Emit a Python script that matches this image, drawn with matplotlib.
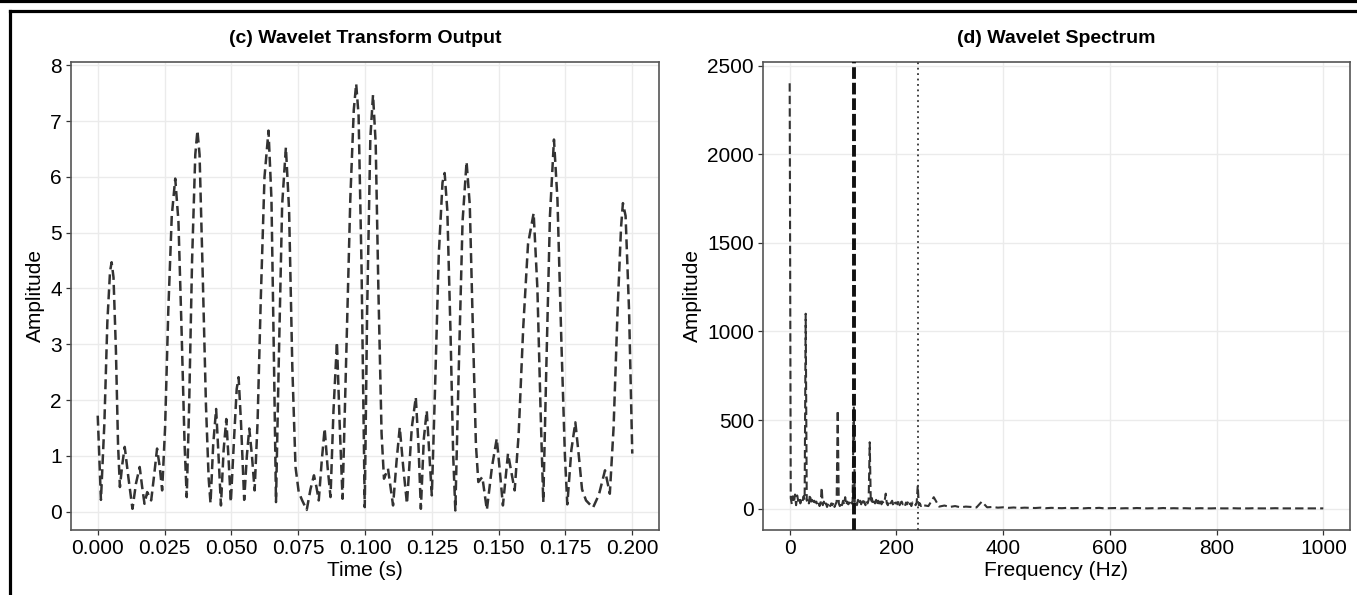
import numpy as np
import matplotlib
matplotlib.use("Agg")
import matplotlib.pyplot as plt
from matplotlib.lines import Line2D

plt.rcParams['font.family'] = ['Liberation Sans', 'DejaVu Sans']

# ---------------------------------------------------------------------------
# data
# ---------------------------------------------------------------------------
# (c) wavelet transform output: time (s) and amplitude
time_s = [0.0000, 0.0012, 0.0025, 0.0036, 0.0046, 0.0052, 0.0059, 0.0068, 0.0076, 0.0083,
          0.0092, 0.0101, 0.0115, 0.0130, 0.0143, 0.0157, 0.0166, 0.0175, 0.0185, 0.0200,
          0.0211, 0.0222, 0.0232, 0.0241, 0.0252, 0.0264, 0.0277, 0.0290, 0.0302, 0.0314,
          0.0325, 0.0333, 0.0342, 0.0353, 0.0365, 0.0373, 0.0381, 0.0392, 0.0405, 0.0415,
          0.0422, 0.0432, 0.0443, 0.0452, 0.0461, 0.0471, 0.0481, 0.0490, 0.0498, 0.0510,
          0.0520, 0.0527, 0.0536, 0.0548, 0.0558, 0.0567, 0.0577, 0.0587, 0.0598, 0.0610,
          0.0624, 0.0639, 0.0650, 0.0660, 0.0667, 0.0677, 0.0690, 0.0704, 0.0716, 0.0728,
          0.0740, 0.0752, 0.0765, 0.0782, 0.0796, 0.0809, 0.0818, 0.0827, 0.0838, 0.0849,
          0.0860, 0.0871, 0.0882, 0.0895, 0.0905, 0.0916, 0.0930, 0.0945, 0.0958, 0.0967,
          0.0976, 0.0987, 0.0999, 0.1008, 0.1020, 0.1030, 0.1040, 0.1050, 0.1062, 0.1071,
          0.1086, 0.1105, 0.1118, 0.1130, 0.1143, 0.1157, 0.1175, 0.1190, 0.1200, 0.1209,
          0.1220, 0.1231, 0.1241, 0.1250, 0.1262, 0.1276, 0.1290, 0.1298, 0.1308, 0.1320,
          0.1330, 0.1338, 0.1350, 0.1365, 0.1380, 0.1392, 0.1404, 0.1415, 0.1424, 0.1439,
          0.1456, 0.1475, 0.1493, 0.1505, 0.1516, 0.1535, 0.1548, 0.1560, 0.1575, 0.1592,
          0.1610, 0.1631, 0.1645, 0.1657, 0.1667, 0.1678, 0.1692, 0.1707, 0.1720, 0.1735,
          0.1748, 0.1757, 0.1772, 0.1787, 0.1800, 0.1812, 0.1827, 0.1853, 0.1875, 0.1898,
          0.1916, 0.1930, 0.1945, 0.1958, 0.1965, 0.1975, 0.1988, 0.2000]
amplitude = [1.72, 0.21, 1.60, 3.40, 4.30, 4.47, 4.20, 2.90, 1.20, 0.44,
             0.85, 1.16, 0.60, 0.05, 0.50, 0.80, 0.45, 0.14, 0.35, 0.20,
             0.65, 1.13, 0.80, 0.38, 1.50, 3.60, 5.30, 5.97, 5.20, 3.20,
             1.20, 0.26, 1.90, 4.50, 6.40, 6.83, 6.40, 4.40, 1.90, 0.60,
             0.15, 1.20, 1.84, 1.00, 0.11, 1.10, 1.66, 0.90, 0.17, 1.30,
             2.20, 2.41, 1.60, 0.21, 1.00, 1.49, 1.00, 0.38, 1.60, 3.80,
             6.00, 6.83, 5.60, 2.50, 0.17, 2.60, 5.50, 6.53, 5.40, 2.60,
             0.80, 0.35, 0.20, 0.03, 0.40, 0.65, 0.45, 0.20, 0.90, 1.49,
             0.80, 0.26, 1.80, 3.04, 1.60, 0.23, 2.80, 5.60, 7.20, 7.67,
             7.10, 4.40, 0.08, 3.60, 6.70, 7.47, 6.60, 4.00, 1.40, 0.59,
             0.77, 0.11, 0.90, 1.51, 0.80, 0.14, 1.50, 2.05, 1.20, 0.05,
             1.30, 1.81, 1.00, 0.29, 2.20, 4.60, 5.90, 6.07, 5.40, 3.20,
             1.00, 0.02, 2.40, 5.20, 6.27, 5.50, 3.20, 1.20, 0.53, 0.62,
             0.03, 0.80, 1.31, 0.70, 0.11, 1.04, 0.70, 0.38, 1.40, 3.30,
             4.80, 5.35, 4.00, 1.80, 0.17, 2.50, 5.30, 6.67, 5.60, 3.00,
             1.00, 0.13, 1.10, 1.60, 1.00, 0.40, 0.20, 0.07, 0.30, 0.74,
             0.32, 1.50, 3.60, 5.10, 5.53, 5.30, 3.60, 1.04]

# (d) wavelet spectrum: 0-248 Hz in 2 Hz bins, then 250-1000 Hz in 10 Hz bins
spec_low = [2400, 60, 25, 70, 35, 80, 20, 75, 45, 65,
            30, 55, 40, 70, 50, 1100, 45, 55, 30, 80,
            40, 50, 25, 45, 35, 40, 20, 35, 15, 30,
            120, 20, 40, 15, 30, 10, 25, 35, 15, 30,
            20, 35, 10, 25, 40, 555, 30, 15, 35, 20,
            45, 25, 65, 20, 40, 25, 35, 50, 30, 40,
            650, 35, 45, 20, 50, 30, 45, 25, 55, 35,
            40, 20, 45, 30, 50, 375, 35, 60, 25, 40,
            30, 50, 20, 45, 30, 55, 25, 40, 30, 45,
            85, 30, 20, 40, 25, 35, 45, 20, 40, 30,
            35, 25, 45, 20, 35, 40, 25, 30, 15, 35,
            25, 40, 20, 30, 15, 35, 25, 30, 20, 35,
            130, 20, 30, 15, 25]
spec_high = [20, 15, 65, 12, 18, 10, 15, 8, 12, 10,
             7, 40, 8, 10, 6, 8, 5, 7, 4, 6,
             5, 4, 6, 3, 5, 4, 3, 5, 3, 4,
             2, 4, 3, 5, 2, 3, 4, 2, 3, 2,
             4, 3, 2, 3, 2, 4, 2, 3, 2, 3,
             2, 2, 3, 2, 2, 3, 2, 2, 3, 2,
             2, 2, 3, 2, 2, 2, 3, 2, 2, 2,
             2, 2, 2, 2, 2, 2]
freq_low = np.arange(len(spec_low)) * 2.0
freq_high = 250.0 + np.arange(len(spec_high)) * 10.0

marker_main = 120     # Hz, thick dashed line
marker_harm = 240     # Hz, dotted line

time_ticks = [0.000, 0.025, 0.050, 0.075, 0.100, 0.125, 0.150, 0.175, 0.200]
freq_ticks = [0, 200, 400, 600, 800, 1000]

# ---------------------------------------------------------------------------
# figure
# ---------------------------------------------------------------------------
W, H = 1357, 595
fig = plt.figure(figsize=(W / 100, H / 100), dpi=100)
fig.patch.set_facecolor('white')

ax1 = fig.add_axes([71 / W, 1 - 530 / H, 588 / W, 468 / H])
ax2 = fig.add_axes([763 / W, 1 - 530 / H, 587 / W, 468 / H])

line_col = '#333333'
fs_tick = 15
fs_lab = 15
fs_title = 14

# (c)
ax1.plot(time_s, amplitude, color=line_col, lw=1.8, ls=(0, (4, 2)),
         dash_capstyle='butt')
ax1.set_xlim(-0.01, 0.21)
ax1.set_ylim(-0.33, 8.06)
ax1.set_xticks(time_ticks)
ax1.set_xticklabels([f'{t:.3f}' for t in time_ticks])
ax1.set_yticks(range(0, 9))
ax1.set_xlabel('Time (s)', fontsize=fs_lab, labelpad=2)
ax1.set_ylabel('Amplitude', fontsize=fs_lab, labelpad=4)
ax1.set_title('(c) Wavelet Transform Output', fontsize=fs_title,
              fontweight='bold', pad=14)

# (d)
ax2.plot(np.concatenate([freq_low, freq_high]),
         np.concatenate([spec_low, spec_high]),
         color=line_col, lw=1.5, ls=(0, (4, 2)), dash_capstyle='butt')
ax2.axvline(marker_main, color='#111111', lw=2.8, ls=(0, (3, 1)),
            dash_capstyle='butt', zorder=3)
ax2.axvline(marker_harm, color='#333333', lw=1.3, ls=(0, (1, 2)), zorder=3)
ax2.set_xlim(-50, 1050)
ax2.set_ylim(-120, 2520)
ax2.set_xticks(freq_ticks)
ax2.set_yticks([0, 500, 1000, 1500, 2000, 2500])
ax2.set_xlabel('Frequency (Hz)', fontsize=fs_lab, labelpad=2)
ax2.set_ylabel('Amplitude', fontsize=fs_lab, labelpad=4)
ax2.set_title('(d) Wavelet Spectrum', fontsize=fs_title,
              fontweight='bold', pad=14)

for ax in (ax1, ax2):
    ax.set_facecolor('white')
    ax.grid(True, color='#ebebeb', lw=1.0)
    ax.set_axisbelow(True)
    for sp in ax.spines.values():
        sp.set_color('#555555')
        sp.set_linewidth(1.2)
    ax.tick_params(direction='out', length=3.5, width=0.9, color='#333333',
                   labelsize=fs_tick, labelcolor='black', pad=3)

# frame lines of the surrounding composite
fig.add_artist(Line2D([0, 1], [1 - 1.3 / H, 1 - 1.3 / H], transform=fig.transFigure,
                      color='black', lw=2.3))
fig.add_artist(Line2D([9.5 / W, 1], [1 - 11.3 / H, 1 - 11.3 / H], transform=fig.transFigure,
                      color='black', lw=2.3, solid_capstyle='projecting'))
fig.add_artist(Line2D([9.5 / W, 9.5 / W], [1 - 11.3 / H, 1 - 594 / H], transform=fig.transFigure,
                      color='black', lw=2.3))

fig.savefig('out.png', dpi=100, facecolor='white')
